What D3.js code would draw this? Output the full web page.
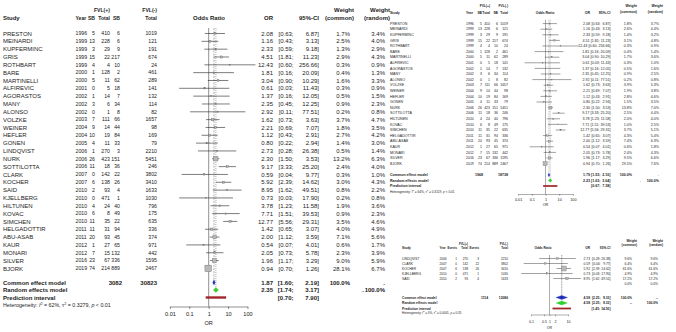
<!DOCTYPE html>
<html><head><meta charset="utf-8">
<script src="https://cdn.jsdelivr.net/npm/d3@7"></script>
<style>html,body{margin:0;padding:0;background:#fff;}svg{display:block;font-family:Arial,"Liberation Sans",sans-serif;}</style>
</head><body>
<svg id="c" width="676" height="332"></svg>
<script>
// ---------- data ----------
const studies = ["PRESTON","MEINARDI","KUPFERMINC","GRIS","ROTHBART","BARE","MARTINELLI","ALFIREVIC","AGORASTOS","MANY","ALONSO","VOLZKE","WEINER","HEFLER","GONEN","LINDQVIST","NURK","SOTTILOTTA","CLARK","KOCHER","SAID","KJELLBERG","HILTUNEN","KOVAC","SIMCHEN","HELGADOTTIR","ABU-ASAB","KAUR","MONARI","SILVER","BJORK"];
const years = [1996,1999,1999,1999,1999,2000,2000,2001,2002,2002,2002,2003,2004,2004,2005,2006,2006,2006,2007,2007,2010,2010,2010,2010,2010,2011,2011,2012,2012,2016,2019];
const eventsPos = [5,13,3,15,4,1,5,0,1,3,0,7,9,10,4,1,26,11,0,6,2,0,4,6,11,11,20,1,7,23,74];
const totalPos = [410,228,29,22,4,128,11,5,14,6,1,111,14,19,11,270,423,18,142,138,93,471,24,8,35,31,93,27,15,67,214];
const eventsNeg = [6,6,9,217,10,2,62,18,7,34,8,66,44,84,33,3,151,36,22,26,4,1,40,49,22,94,45,65,132,336,889];
const totalNeg = [1019,121,191,674,24,461,289,141,132,114,82,1657,98,169,79,2210,5451,246,3802,3410,1633,1030,796,175,635,336,374,971,442,1595,2467];
const oddsRatio = [2.08,1.16,2.33,4.51,12.43,1.81,3.04,0.61,1.37,2.35,2.92,1.62,2.21,1.12,0.80,2.73,2.30,9.17,0.59,5.92,8.95,0.73,3.78,7.71,12.77,1.42,2.00,0.54,2.05,1.96,0.94];
const ciLower = [0.63,0.43,0.59,1.81,0.60,0.16,0.90,0.03,0.16,0.45,0.11,0.73,0.69,0.43,0.22,0.28,1.50,3.33,0.04,2.39,1.62,0.03,1.23,1.51,5.56,0.65,1.12,0.07,0.73,1.17,0.70];
const ciUpper = [6.87,3.13,9.18,11.23,256.66,20.09,10.29,11.43,12.05,12.25,77.51,3.63,7.07,2.91,2.94,26.38,3.53,25.20,9.77,14.62,49.51,17.90,11.58,39.53,29.31,3.07,3.59,4.01,5.78,3.29,1.26];

// panel A (all studies)
const studiesA = studies.slice();
const wCommonA = [1.7,2.5,1.3,2.9,0.3,0.4,1.6,0.3,0.5,0.9,0.2,3.7,1.8,2.7,1.4,0.5,13.2,2.4,0.3,3.0,0.8,0.2,1.9,0.9,3.5,4.0,7.1,0.6,2.3,9.0,28.1];
const wRandomA = [3.4,4.0,2.9,4.3,0.9,1.3,3.3,0.9,1.5,2.3,0.8,4.7,3.5,4.2,3.0,1.4,6.3,4.0,1.0,4.3,2.2,0.8,3.6,2.3,4.6,4.9,5.6,1.7,3.9,5.9,6.7];
const commonA = [1.87,1.60,2.19], randomA = [2.35,1.74,3.17], predA = [0.70,7.90], totalsA = [3082,30823], hetA = ["62%","0.3279","< 0.01"];

// panel B
const studiesB = ["PRESTON","MEINARDI","KUPFERMINC","GRIS","ROTHBART","BARE","MARTINELLI","ALFIREVIC","AGORASTOS","MANY","ALONSO","VOLZKE","WEINER","HEFLER","GONEN","NURK","SOTTILOTTA","HILTUNEN","KOVAC","SIMCHEN","HELGADOTTIR","ABU-ASAB","KAUR","MONARI","SILVER","BJORK"];
const wCommonB = [1.8,2.6,1.4,3.1,0.3,0.4,1.7,0.3,0.5,0.9,0.2,3.9,1.9,2.8,1.5,13.8,2.5,2.0,1.0,3.7,4.3,7.4,0.6,2.4,9.5,29.5];
const wRandomB = [3.7,4.4,3.2,4.8,0.9,1.4,3.6,1.0,1.6,2.5,0.8,5.3,3.8,4.6,3.5,7.0,4.4,4.0,2.5,5.1,5.4,6.3,1.8,4.3,6.6,7.6];
const commonB = [1.79,1.53,2.10], randomB = [2.23,1.63,3.04], predB = [0.67,7.38], totalsB = [1968,18738], hetB = ["64%","0.3119","< 0.01"];

// panel C
const studiesC = ["LINDQVIST","CLARK","KOCHER","KJELLBERG","SAID",""];
const wCommonC = [9.6,6.4,61.6,4.9,17.2,0.0];
const wRandomC = [9.6,6.4,61.6,4.9,17.2,0.0];
const commonC = [4.58,2.25,9.33], randomC = [4.58,2.25,9.33], predC = [1.45,14.50], totalsC = [1114,12086], hetC = ["0%","0.0001","= 0.35"];

const ticksAB = [0.01,0.1,1,10,100], tickLabelsAB = ["0.01","0.1","1","10","100"];
const ticksC = [0.1,0.5,1,2,10], tickLabelsC = ["0.1","0.5","1","2","10"];

// ---------- drawing ----------
const svg = d3.select("#c");
const F = "Arial, 'Liberation Sans', sans-serif";

function buildRows(names, wc, wr){
  return names.map((n,i)=>{
    const k = studies.indexOf(n);
    if(k<0) return {name:n, wc:wc[i], wr:wr[i], empty:true};
    return {name:n, year:years[k], e1:eventsPos[k], n1:totalPos[k], e2:eventsNeg[k], n2:totalNeg[k],
      or:oddsRatio[k], lo:ciLower[k], hi:ciUpper[k], wc:wc[i], wr:wr[i]};
  });
}

function drawPanel(c, rows, common, random, pred, totals, het, ticks, tickLabels){
  const g = svg.append("g");
  const x = d3.scaleLog().domain(c.domain).range(c.range);
  const T = (xx,yy,s,o={})=>g.append("text").attr("x",xx).attr("y",yy).attr("dy","0.35em")
     .attr("font-size",o.fs||c.fs).attr("font-weight",o.bold?"bold":"normal")
     .attr("text-anchor",o.a||"start").attr("fill",o.fill||"#1b1b1b").text(s);
  // OR + CI text: "hi]" right-aligned at xHi, "[lo;" at xLo, OR at xOR; shifted left only if they would collide
  const EST = (y, est, lo, hi, o={}) => {
    const gap = c.fs*0.3;
    const th = T(c.xHi, y, hi.toFixed(2) + "]", {...o, a:"end"});
    const xl = Math.min(c.xLo, c.xHi - th.node().getComputedTextLength() - gap);
    const tl = T(xl, y, "[" + lo.toFixed(2) + ";", {...o, a:"end"});
    if(est !== null){
      const xo = Math.min(c.xOR, xl - tl.node().getComputedTextLength() - gap);
      T(xo, y, est.toFixed(2), {...o, a:"end"});
    }
  };
  const hb = {bold:true, fs:c.hfs};
  const hn = {bold:true, fs:c.hfsNum};
  const nn = {fs:c.fsNum, a:"end"};
  // headers
  T(c.xN1, c.hy1, "FVL(+)", {...hn, a:"end"});
  T(c.xN2, c.hy1, "FVL(-)", {...hn, a:"end"});
  T(c.xStudy, c.hy2, "Study", hb);
  T(c.xYear, c.hy2, "Year", hn);
  T(c.xE1, c.hy2, c.evLabel, {...hn, a:"end"});
  T(c.xN1, c.hy2, "Total", {...hn, a:"end"});
  T(c.xE2, c.hy2, c.evLabel, {...hn, a:"end"});
  T(c.xN2, c.hy2, "Total", {...hn, a:"end"});
  T(c.xOddsHead, c.hy2, "Odds Ratio", {...hb, a:"middle"});
  T(c.xOR, c.hy2, "OR", {...hb, a:"end"});
  T(c.xHi, c.hy2, "95%-CI", {...hb, a:"end"});
  T(c.xWcHead, c.wy1, "Weight", {...hb, a:"end"});
  T(c.xWcHead, c.wy2, "(common)", {...hb, a:"end"});
  T(c.xWrHead, c.wy1, "Weight", {...hb, a:"end"});
  T(c.xWrHead, c.wy2, "(random)", {...hb, a:"end"});

  const yRow = i => c.y0 + i*c.step;
  const top = c.y0 - c.step*0.7;
  // reference lines
  g.append("line").attr("x1",x(1)).attr("x2",x(1)).attr("y1",top).attr("y2",c.yAxis)
    .attr("stroke","#333").attr("stroke-width",c.lw);
  g.append("line").attr("x1",x(common[0])).attr("x2",x(common[0])).attr("y1",top).attr("y2",c.yCommon)
    .attr("stroke","#666").attr("stroke-width",c.lw).attr("stroke-dasharray",c.dash1);
  g.append("line").attr("x1",x(random[0])).attr("x2",x(random[0])).attr("y1",top).attr("y2",c.yRandom)
    .attr("stroke","#666").attr("stroke-width",c.lw).attr("stroke-dasharray",c.dash2);

  rows.forEach((r,i)=>{
    const y = yRow(i);
    T(c.xStudy, y, r.name);
    if(!r.empty){
      T(c.xYear, y, r.year, {fs:c.fsNum});
      T(c.xE1, y, r.e1, nn);
      T(c.xN1, y, r.n1, nn);
      T(c.xE2, y, r.e2, nn);
      T(c.xN2, y, r.n2, nn);
      EST(y, r.or, r.lo, r.hi);
      g.append("line").attr("x1",x(r.lo)).attr("x2",x(r.hi)).attr("y1",y).attr("y2",y)
        .attr("stroke","#111").attr("stroke-width",c.lw);
      const s = Math.max(c.sq*Math.sqrt(r.wc), c.minSq);
      g.append("rect").attr("x",x(r.or)-s/2).attr("y",y-s/2).attr("width",s).attr("height",s)
        .attr("fill","#b8b8b8").attr("stroke","#6a6a6a").attr("stroke-width",c.lw*0.7);
    }
    T(c.xWc, y, r.wc.toFixed(1)+"%", {a:"end"});
    T(c.xWr, y, r.wr.toFixed(1)+"%", {a:"end"});
  });

  const b = {bold:true};
  // common
  T(c.xStudy, c.yCommon, "Common effect model", b);
  T(c.xTotE, c.yCommon, totals[0], {...b, a:"end"});
  T(c.xN2, c.yCommon, totals[1], {...b, a:"end"});
  EST(c.yCommon, common[0], common[1], common[2], b);
  T(c.xWc, c.yCommon, "100.0%", {...b, a:"end"});
  T(c.xDotC, c.yCommon, c.dot, {...b, a:"end"});
  // random
  T(c.xStudy, c.yRandom, "Random effects model", b);
  EST(c.yRandom, random[0], random[1], random[2], b);
  T(c.xDotR, c.yRandom, c.dot, {...b, a:"end"});
  T(c.xWr, c.yRandom, "100.0%", {...b, a:"end"});
  // prediction
  T(c.xStudy, c.yPred, "Prediction interval", b);
  EST(c.yPred, null, pred[0], pred[1], b);

  const dia = (est, lo, hi, y, col) => g.append("path")
    .attr("d", `M${x(lo)},${y} L${x(est)},${y-c.dh} L${x(hi)},${y} L${x(est)},${y+c.dh} Z`)
    .attr("fill",col).attr("stroke",col).attr("stroke-width",0.3);
  dia(common[0],common[1],common[2],c.yCommon,"#1f2fb8");
  dia(random[0],random[1],random[2],c.yRandom,"#2fd02f");
  g.append("rect").attr("x",x(pred[0])).attr("y",c.yPred-c.barH/2).attr("width",x(pred[1])-x(pred[0]))
    .attr("height",c.barH).attr("fill","#a3262a");

  // heterogeneity
  const h = T(c.xStudy, c.yHet, "", {fs:c.hetFs});
  const sup = c.hetFs*0.7;
  h.append("tspan").text("Heterogeneity: ");
  h.append("tspan").attr("font-style","italic").text("I");
  h.append("tspan").attr("font-size",sup).attr("dy",-c.hetFs*0.4).text("2");
  h.append("tspan").attr("dy",c.hetFs*0.4).text(" = " + het[0] + ", \u03c4");
  h.append("tspan").attr("font-size",sup).attr("dy",-c.hetFs*0.4).text("2");
  h.append("tspan").attr("dy",c.hetFs*0.4).text(" = " + het[1] + ", ");
  h.append("tspan").attr("font-style","italic").text("p");
  h.append("tspan").text(" " + het[2]);

  // axis
  const ax = d3.axisBottom(x).tickValues(ticks).tickFormat((d,i)=>tickLabels[i])
    .tickSize(c.tickLen).tickSizeOuter(0);
  const ag = g.append("g").attr("transform",`translate(0,${c.yAxis})`).call(ax)
    .attr("font-family",F).attr("font-size",c.tickFs);
  ag.select(".domain").attr("stroke","#333").attr("stroke-width",c.lw);
  ag.selectAll(".tick line").attr("stroke","#333").attr("stroke-width",c.lw);
  ag.selectAll(".tick text").attr("y",c.yTick-c.yAxis).attr("dy","0.35em").attr("fill","#1b1b1b");
  T(x(1), c.yOrLab, "OR", {fs:c.tickFs, a:"middle"});
}

const cfgA = {fs:6.0, hfs:6.0, fsNum:5.2, hfsNum:5.1, hetFs:5.3, tickFs:5.6, evLabel:"SB",
  hy1:10, hy2:18, wy1:9.5, wy2:17.5,
  y0:33.5, step:7.83,
  xStudy:3, xYear:75.5, xE1:95, xN1:110, xE2:120, xN2:157, xTotE:122,
  domain:[0.01,100], range:[169.9,247.5], xOddsHead:209,
  xOR:273, xLo:293.5, xHi:319, xWc:350, xWr:385, xWcHead:354, xWrHead:390,
  xDotC:385, xDotR:364, dot:".",
  yCommon:282.5, yRandom:290, yPred:297.5, yHet:305, yAxis:306.5, yTick:314.5, yOrLab:323,
  sq:1.23, minSq:1.3, dh:2.6, barH:2.4, lw:0.55, dash1:"2,1.2", dash2:"1,1", tickLen:2.5};

const cfgB = {fs:3.6, hfs:3.5, fsNum:3.5, hfsNum:3.3, hetFs:3.2, tickFs:3.8, evLabel:"SB",
  hy1:5.5, hy2:12.5, wy1:5.5, wy2:11.5,
  y0:23.6, step:5.6,
  xStudy:390, xYear:466, xE1:482, xN1:490, xE2:498, xN2:508, xTotE:483,
  domain:[0.01,100], range:[518.1,572.9], xOddsHead:545,
  xOR:590, xLo:600.5, xHi:610.5, xWc:632, xWr:659, xWcHead:637, xWrHead:663,
  xDotC:659, xDotR:641, dot:".",
  yCommon:175, yRandom:180.5, yPred:186, yHet:191.5, yAxis:194, yTick:199.5, yOrLab:205,
  sq:0.79, minSq:0.9, dh:1.8, barH:1.7, lw:0.4, dash1:"1.5,0.9", dash2:"0.8,0.8", tickLen:1.8};

const cfgC = {fs:3.3, hfs:3.2, fsNum:3.2, hfsNum:2.9, hetFs:3.0, tickFs:3.6, evLabel:"Events",
  hy1:243.5, hy2:248.3, wy1:240.5, wy2:244.5,
  y0:258.5, step:5.0,
  xStudy:402, xYear:439.5, xE1:457, xN1:468, xE2:479, xN2:508, xTotE:488,
  domain:[0.1,10], range:[531,568], xOddsHead:543,
  xOR:590, xLo:600.5, xHi:610.5, xWc:632, xWr:658, xWcHead:637, xWrHead:663,
  xDotC:658, xDotR:632, dot:"--",
  yCommon:297.5, yRandom:303, yPred:308.5, yHet:312.5, yAxis:314.5, yTick:321.5, yOrLab:327.5,
  sq:0.64, minSq:0.9, dh:2.1, barH:1.8, lw:0.4, dash1:"1.5,0.9", dash2:"0.8,0.8", tickLen:1.8};

drawPanel(cfgA, buildRows(studiesA, wCommonA, wRandomA), commonA, randomA, predA, totalsA, hetA, ticksAB, tickLabelsAB);
drawPanel(cfgB, buildRows(studiesB, wCommonB, wRandomB), commonB, randomB, predB, totalsB, hetB, ticksAB, tickLabelsAB);
drawPanel(cfgC, buildRows(studiesC, wCommonC, wRandomC), commonC, randomC, predC, totalsC, hetC, ticksC, tickLabelsC);
</script>
</body></html>
